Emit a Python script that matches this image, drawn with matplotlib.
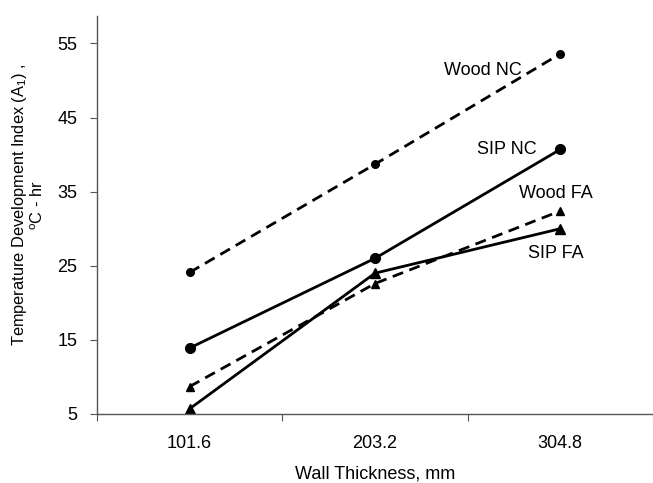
import numpy as np
import matplotlib
matplotlib.use('Agg')
import matplotlib.pyplot as plt

plt.rcParams['font.family'] = ['Liberation Sans', 'DejaVu Sans']
plt.rcParams['mathtext.default'] = 'regular'

# Wall thickness categories (mm)
thickness = ['101.6', '203.2', '304.8']

# Temperature development index, degC-hr
wood_nc = [24.1, 38.7, 53.6]
sip_nc = [13.9, 26.0, 40.7]
wood_fa = [8.7, 22.6, 32.4]
sip_fa = [5.7, 24.0, 30.0]

series_labels = ['Wood NC', 'SIP NC', 'Wood FA', 'SIP FA']


def main():
    fig = plt.figure(figsize=(6.53, 4.83), dpi=100)
    ax = fig.add_axes([0.1485, 0.1429, 0.8515, 0.8240])

    x = np.arange(len(thickness))
    lw = 2.0
    dash = (0, (4, 2.4))
    ax.plot(x, wood_nc, color='black', lw=lw, ls=dash, marker='o', ms=5.5)
    ax.plot(x, sip_nc, color='black', lw=lw, ls='-', marker='o', ms=7)
    ax.plot(x, wood_fa, color='black', lw=lw, ls=dash, marker='^', ms=5.5)
    ax.plot(x, sip_fa, color='black', lw=lw, ls='-', marker='^', ms=7)

    # series names set beside the thickest-wall points
    fs = 13
    ax.text(1.583, 51.4, series_labels[0], fontsize=fs, ha='center',
            va='center')
    ax.text(1.712, 40.7, series_labels[1], fontsize=fs, ha='center',
            va='center')
    ax.text(1.977, 34.8, series_labels[2], fontsize=fs, ha='center',
            va='center')
    ax.text(1.977, 26.6, series_labels[3], fontsize=fs, ha='center',
            va='center')

    ax.set_xlim(-0.5, 2.5)
    ax.set_ylim(5, 58.7)
    ax.set_yticks(np.arange(5, 56, 10))
    ax.set_xticks([-0.5, 0.5, 1.5, 2.5])
    ax.set_xticklabels([])
    ax.set_xticks(x, minor=True)
    ax.set_xticklabels(thickness, minor=True)
    ax.tick_params(axis='x', which='minor', length=0, pad=15, labelsize=fs)
    ax.tick_params(axis='x', which='major', length=5, direction='out',
                   color='#555555')
    ax.tick_params(axis='y', length=5, direction='out', color='#555555',
                   labelsize=fs, pad=9)

    for side in ('top', 'right'):
        ax.spines[side].set_visible(False)
    for side in ('left', 'bottom'):
        ax.spines[side].set_color('#555555')
        ax.spines[side].set_linewidth(1.0)

    ax.set_xlabel('Wall Thickness, mm', fontsize=fs, labelpad=10)
    ax.set_ylabel('Temperature Development Index (A$_1$) ,\n$^o$C - hr',
                  fontsize=11.8, linespacing=1.05)
    ax.yaxis.set_label_coords(-0.091, 0.525)

    fig.savefig('out.png', dpi=100)
    plt.close(fig)


if __name__ == '__main__':
    main()
